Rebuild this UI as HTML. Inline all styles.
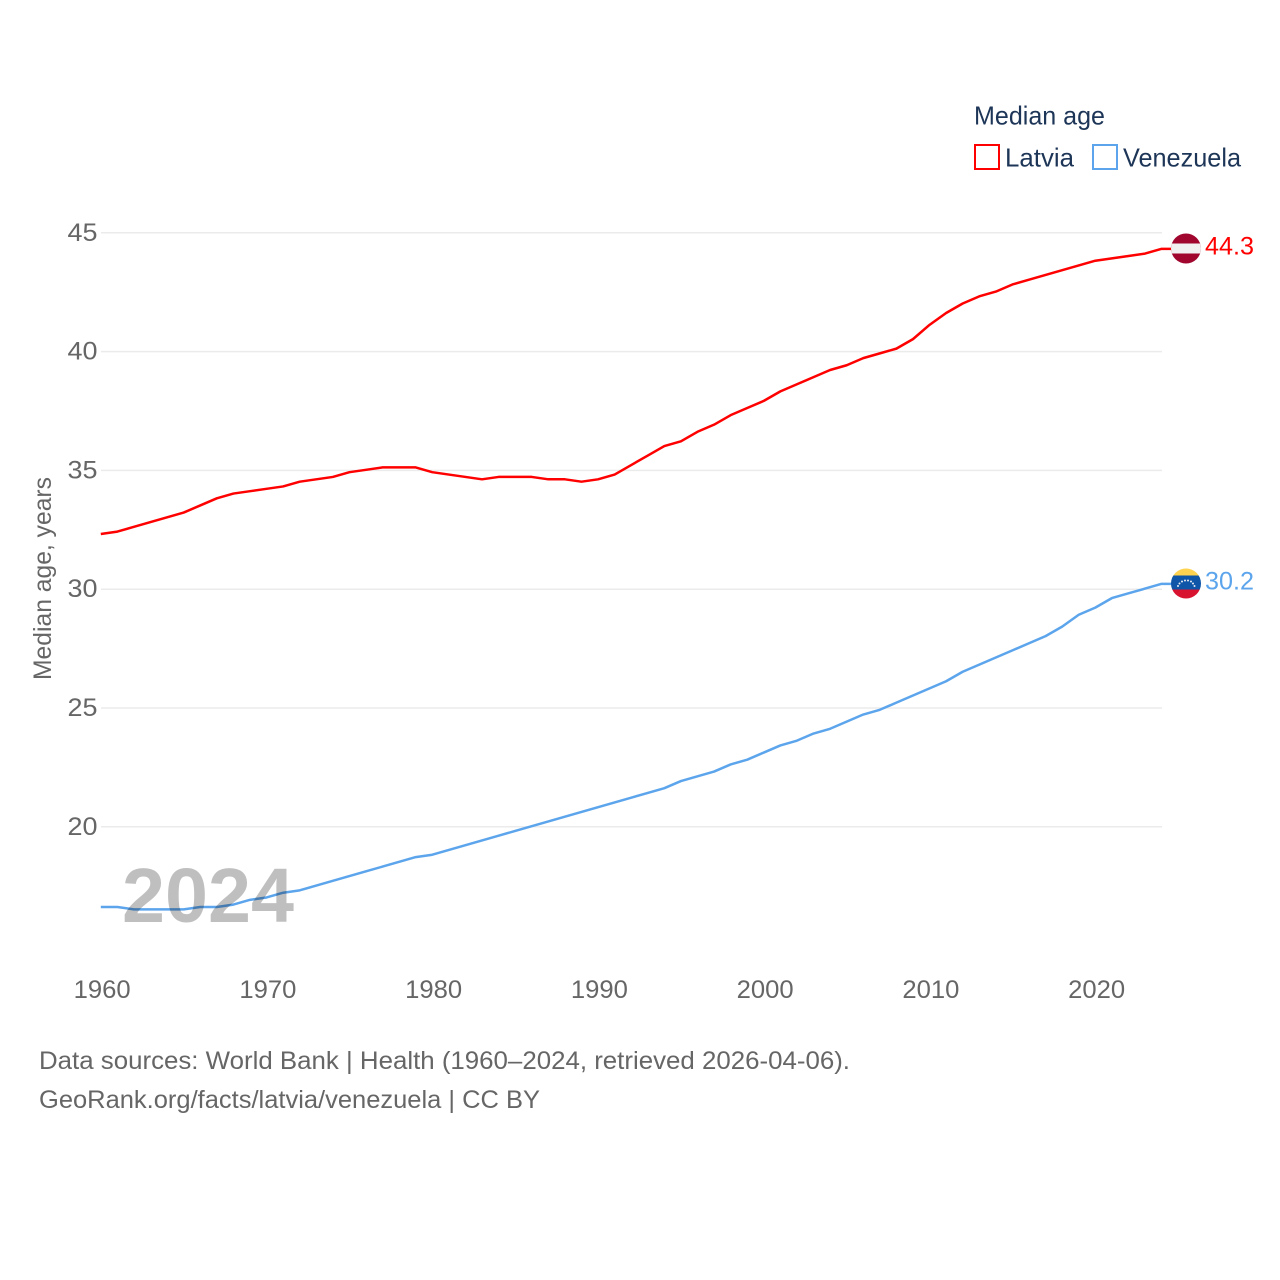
<!DOCTYPE html>
<html>
<head>
<meta charset="utf-8">
<style>
html,body{margin:0;padding:0;background:#fff;}
svg{display:block;font-family:"Liberation Sans",sans-serif;}
</style>
</head>
<body>
<svg id="chart" width="1280" height="1280" viewBox="0 0 1280 1280" xmlns="http://www.w3.org/2000/svg">
  <rect x="0" y="0" width="1280" height="1280" fill="#fff"/>
  <g id="grid"></g>
  <g id="ytick-labels"></g>
  <g id="xtick-labels"></g>
  <text transform="translate(51,680) rotate(-90)" font-size="25" fill="#666" textLength="203" lengthAdjust="spacingAndGlyphs">Median age, years</text>
  <g id="series" transform="translate(0,-0.6)"></g>
  <text x="122" y="922" font-size="77" font-weight="700" fill="#000" fill-opacity="0.25" textLength="172" lengthAdjust="spacingAndGlyphs">2024</text>

  <g>
    <clipPath id="clip-lv"><circle cx="1186" cy="248.5" r="15"/></clipPath>
    <g clip-path="url(#clip-lv)">
      <rect x="1171" y="233" width="30" height="31" fill="#a0062e"/>
      <rect x="1171" y="243.5" width="30" height="10" fill="#f1f1f1"/>
    </g>
  </g>
  <g>
    <clipPath id="clip-ve"><circle cx="1186" cy="583.5" r="15"/></clipPath>
    <g clip-path="url(#clip-ve)">
      <rect x="1171" y="568" width="30" height="10" fill="#ffd34f"/>
      <rect x="1171" y="575.5" width="30" height="14" fill="#0f56a8"/>
      <rect x="1171" y="589.5" width="30" height="10" fill="#d8132f"/>
    </g>
    <g fill="#e6eaf2">
      <circle cx="1178" cy="586" r="1"/><circle cx="1179.5" cy="583.5" r="1"/><circle cx="1182" cy="581.5" r="1"/><circle cx="1185" cy="580.5" r="1"/><circle cx="1188" cy="580.5" r="1"/><circle cx="1191" cy="581.5" r="1"/><circle cx="1193" cy="583.5" r="1"/><circle cx="1194.5" cy="586" r="1"/>
    </g>
  </g>
  <text x="1205" y="254.5" font-size="25" fill="#ff0000" textLength="49" lengthAdjust="spacingAndGlyphs">44.3</text>
  <text x="1205" y="589.5" font-size="25" fill="#5ca5ec" textLength="49" lengthAdjust="spacingAndGlyphs">30.2</text>

  <g>
    <text x="974" y="124.5" font-size="26" fill="#1d3557" textLength="131" lengthAdjust="spacingAndGlyphs">Median age</text>
    <rect x="975" y="145" width="24" height="24" fill="#fff" stroke="#ff0000" stroke-width="2"/>
    <text x="1005" y="166.5" font-size="26" fill="#1d3557" textLength="69" lengthAdjust="spacingAndGlyphs">Latvia</text>
    <rect x="1093" y="145" width="24" height="24" fill="#fff" stroke="#5ca5ec" stroke-width="2"/>
    <text x="1123" y="166.5" font-size="26" fill="#1d3557" textLength="118" lengthAdjust="spacingAndGlyphs">Venezuela</text>
  </g>

  <text x="39" y="1069" font-size="25" fill="#666" textLength="811" lengthAdjust="spacingAndGlyphs">Data sources: World Bank | Health (1960–2024, retrieved 2026-04-06).</text>
  <text x="39" y="1108" font-size="25" fill="#666" textLength="501" lengthAdjust="spacingAndGlyphs">GeoRank.org/facts/latvia/venezuela | CC BY</text>
</svg>
<script>
const years = [1960,1961,1962,1963,1964,1965,1966,1967,1968,1969,1970,1971,1972,1973,1974,1975,1976,1977,1978,1979,1980,1981,1982,1983,1984,1985,1986,1987,1988,1989,1990,1991,1992,1993,1994,1995,1996,1997,1998,1999,2000,2001,2002,2003,2004,2005,2006,2007,2008,2009,2010,2011,2012,2013,2014,2015,2016,2017,2018,2019,2020,2021,2022,2023,2024];
const latvia = [32.3,32.4,32.6,32.8,33.0,33.2,33.5,33.8,34.0,34.1,34.2,34.3,34.5,34.6,34.7,34.9,35.0,35.1,35.1,35.1,34.9,34.8,34.7,34.6,34.7,34.7,34.7,34.6,34.6,34.5,34.6,34.8,35.2,35.6,36.0,36.2,36.6,36.9,37.3,37.6,37.9,38.3,38.6,38.9,39.2,39.4,39.7,39.9,40.1,40.5,41.1,41.6,42.0,42.3,42.5,42.8,43.0,43.2,43.4,43.6,43.8,43.9,44.0,44.1,44.3];
const venezuela = [16.6,16.6,16.5,16.5,16.5,16.5,16.6,16.6,16.7,16.9,17.0,17.2,17.3,17.5,17.7,17.9,18.1,18.3,18.5,18.7,18.8,19.0,19.2,19.4,19.6,19.8,20.0,20.2,20.4,20.6,20.8,21.0,21.2,21.4,21.6,21.9,22.1,22.3,22.6,22.8,23.1,23.4,23.6,23.9,24.1,24.4,24.7,24.9,25.2,25.5,25.8,26.1,26.5,26.8,27.1,27.4,27.7,28.0,28.4,28.9,29.2,29.6,29.8,30.0,30.2];
const yTicks = [20,25,30,35,40,45];
const xTicks = [1960,1970,1980,1990,2000,2010,2020];

const NS = 'http://www.w3.org/2000/svg';
const xScale = function (year) { return 100.8 + (year - 1960) * 16.575; };
const yScale = function (v) { return 589.2 - (v - 30) * 23.76; };

const grid = document.getElementById('grid');
const yLabels = document.getElementById('ytick-labels');
const xLabels = document.getElementById('xtick-labels');
const seriesGroup = document.getElementById('series');

yTicks.forEach(function (t) {
  const line = document.createElementNS(NS, 'line');
  
  
  line.setAttribute('x1', 101);
  line.setAttribute('x2', 1162);
  line.setAttribute('y1', yScale(t));
  line.setAttribute('y2', yScale(t));
  line.setAttribute('stroke', '#ebebeb');
  line.setAttribute('stroke-width', 1.5);
  grid.appendChild(line);
  const label = document.createElementNS(NS, 'text');
  
  
  label.setAttribute('x', 97.5);
  label.setAttribute('y', yScale(t) + 8);
  label.setAttribute('text-anchor', 'end');
  label.setAttribute('font-size', 25);
  label.setAttribute('fill', '#666');
  label.setAttribute('textLength', 30);
  label.setAttribute('lengthAdjust', 'spacingAndGlyphs');
  label.textContent = t;
  yLabels.appendChild(label);
});

xTicks.forEach(function (t) {
  const label = document.createElementNS(NS, 'text');
  
  
  label.setAttribute('x', xScale(t) + 1.4);
  label.setAttribute('y', 998);
  label.setAttribute('text-anchor', 'middle');
  label.setAttribute('font-size', 25);
  label.setAttribute('fill', '#666');
  label.setAttribute('textLength', 57);
  label.setAttribute('lengthAdjust', 'spacingAndGlyphs');
  label.textContent = t;
  xLabels.appendChild(label);
});

function drawSeries(values, color, name) {
  const pts = values.map(function (v, i) { return xScale(years[i]) + ',' + yScale(v); });
  pts.push('1186,' + yScale(values[values.length - 1]));
  const line = document.createElementNS(NS, 'polyline');
  
  
  line.setAttribute('points', pts.join(' '));
  line.setAttribute('fill', 'none');
  line.setAttribute('stroke', color);
  line.setAttribute('stroke-width', 2.5);
  line.setAttribute('stroke-linejoin', 'round');
  seriesGroup.appendChild(line);
}
drawSeries(latvia, '#ff0000', 'latvia-line');
drawSeries(venezuela, '#5ca5ec', 'venezuela-line');
</script>
</body>
</html>
